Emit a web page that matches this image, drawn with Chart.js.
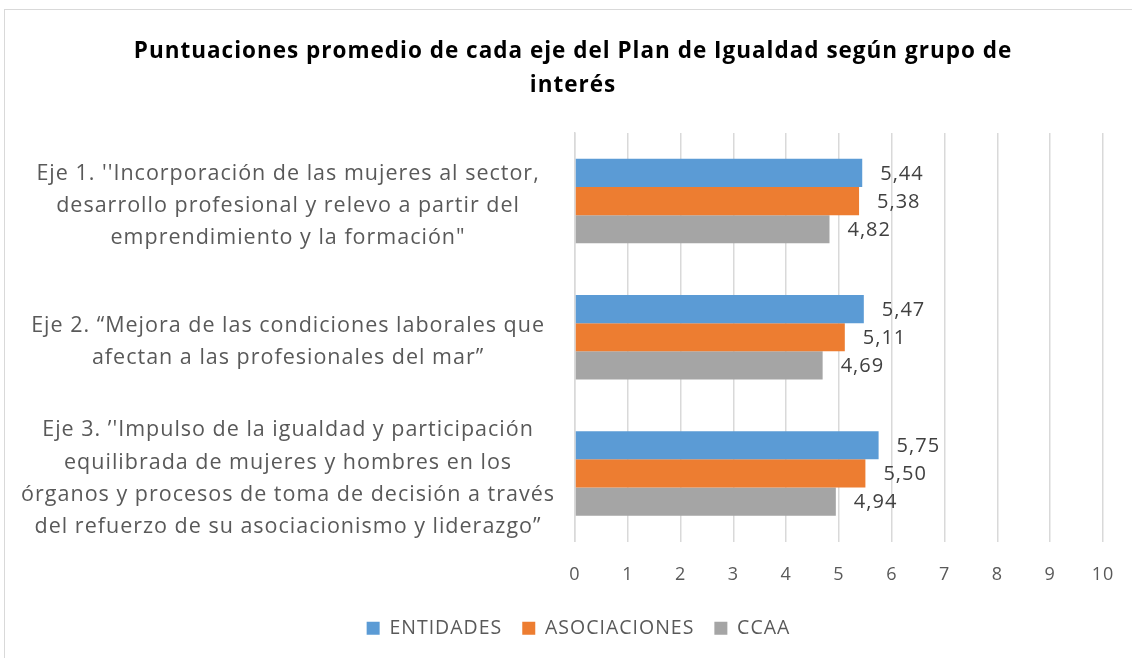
<!DOCTYPE html>
<html>
<head>
<meta charset="utf-8">
<script src="https://cdn.jsdelivr.net/npm/chart.js@4/dist/chart.umd.min.js"></script>
<style>
html,body{margin:0;padding:0;background:#fff;}
#wrap{position:absolute;left:0;top:0;width:1132px;height:658px;}
#frame{position:absolute;left:4px;top:9px;width:1140px;height:660px;border:1px solid #d9d9d9;box-sizing:border-box;}
canvas{position:absolute;left:0;top:0;}
</style>
</head>
<body>
<div id="wrap"><div id="frame"></div><canvas id="c" width="1132" height="658"></canvas></div>
<script>
const titleLines = ["Puntuaciones promedio de cada eje del Plan de Igualdad según grupo de", "interés"];
const categories = [
  ["Eje 1. ''Incorporación de las mujeres al sector,", "desarrollo profesional y relevo a partir del", "emprendimiento y la formación\""],
  ["Eje 2. \u201CMejora de las condiciones laborales que", "afectan a las profesionales del mar\u201D"],
  ["Eje 3. \u2019'Impulso de la igualdad y participación", "equilibrada de mujeres y hombres en los", "órganos y procesos de toma de decisión a través", "del refuerzo de su asociacionismo y liderazgo\u201D"]
];
const seriesNames = ["ENTIDADES", "ASOCIACIONES", "CCAA"];
const entidades = [5.44, 5.47, 5.75];
const asociaciones = [5.38, 5.11, 5.50];
const ccaa = [4.82, 4.69, 4.94];
const xTicks = [0,1,2,3,4,5,6,7,8,9,10];
const colors = ["#5B9BD5", "#ED7D31", "#A5A5A5"];

const FONT = "'Open Sans', 'Liberation Sans', sans-serif";
const SPACING = '1px';

const canvas = document.getElementById('c');

const spacingPlugin = {
  id: 'spacing',
  beforeUpdate(chart) { if ('letterSpacing' in chart.ctx) chart.ctx.letterSpacing = SPACING; },
  beforeLayout(chart) { if ('letterSpacing' in chart.ctx) chart.ctx.letterSpacing = SPACING; },
  afterLayout(chart) {
    const lg = chart.legend;
    if (lg) { lg.left += 23; lg.right += 23; lg.top -= 2; lg.bottom -= 2; }
  },
  beforeDraw(chart) { if ('letterSpacing' in chart.ctx) chart.ctx.letterSpacing = SPACING; }
};

const titleDraw = {
  id: 'titleDraw',
  afterDraw(chart) {
    const ctx = chart.ctx;
    ctx.save();
    ctx.font = "bold 22.5px " + FONT;
    ctx.fillStyle = "#000000";
    ctx.textAlign = "center";
    ctx.textBaseline = "middle";
    titleLines.forEach((line, i) => ctx.fillText(line, 573, 52 + i * 34));
    ctx.restore();
  }
};

const valueLabels = {
  id: 'valueLabels',
  afterDatasetsDraw(chart) {
    const ctx = chart.ctx;
    ctx.save();
    ctx.font = "20px " + FONT;
    ctx.fillStyle = "#404040";
    ctx.textAlign = "left";
    ctx.textBaseline = "middle";
    chart.data.datasets.forEach((ds, i) => {
      const meta = chart.getDatasetMeta(i);
      meta.data.forEach((bar, j) => {
        const v = ds.data[j];
        ctx.fillText(v.toFixed(2).replace('.', ','), bar.x + 18, bar.y + 1);
      });
    });
    ctx.restore();
  }
};

new Chart(canvas, {
  type: 'bar',
  data: {
    labels: categories,
    datasets: [
      {label: seriesNames[0], data: entidades, backgroundColor: colors[0]},
      {label: seriesNames[1], data: asociaciones, backgroundColor: colors[1]},
      {label: seriesNames[2], data: ccaa, backgroundColor: colors[2]}
    ]
  },
  options: {
    indexAxis: 'y',
    responsive: false,
    animation: false,
    devicePixelRatio: 1,
    categoryPercentage: 0.62,
    barPercentage: 1.0,
    layout: {padding: {left: 8, right: 29, top: 133, bottom: 8}},
    scales: {
      x: {
        min: 0, max: 10,
        afterBuildTicks(scale) { scale.ticks = xTicks.map(v => ({value: v})); },
        grid: {color: '#d9d9d9', lineWidth: 1.5, drawTicks: false},
        border: {display: false},
        ticks: {color: '#595959', font: {family: FONT, size: 18}, padding: 23},
        afterFit(scale) { scale.height = 59; scale.paddingLeft = 0; scale.paddingRight = 0; }
      },
      y: {
        grid: {display: false, drawTicks: false},
        border: {display: true, color: '#d9d9d9', width: 1.5},
        ticks: {color: '#595959', font: {family: FONT, size: 21.5, lineHeight: 1.49}, crossAlign: 'center', padding: 20, labelOffset: 5},
        afterFit(scale) { scale.width = 567; scale.paddingTop = 0; scale.paddingBottom = 0; }
      }
    },
    plugins: {
      title: {display: false},
      legend: {
        position: 'bottom',
        labels: {color: '#595959', font: {family: FONT, size: 19.5}, boxWidth: 13, boxHeight: 13, padding: 20}
      },
      tooltip: {enabled: false}
    }
  },
  plugins: [spacingPlugin, titleDraw, valueLabels]
});
</script>
</body>
</html>
